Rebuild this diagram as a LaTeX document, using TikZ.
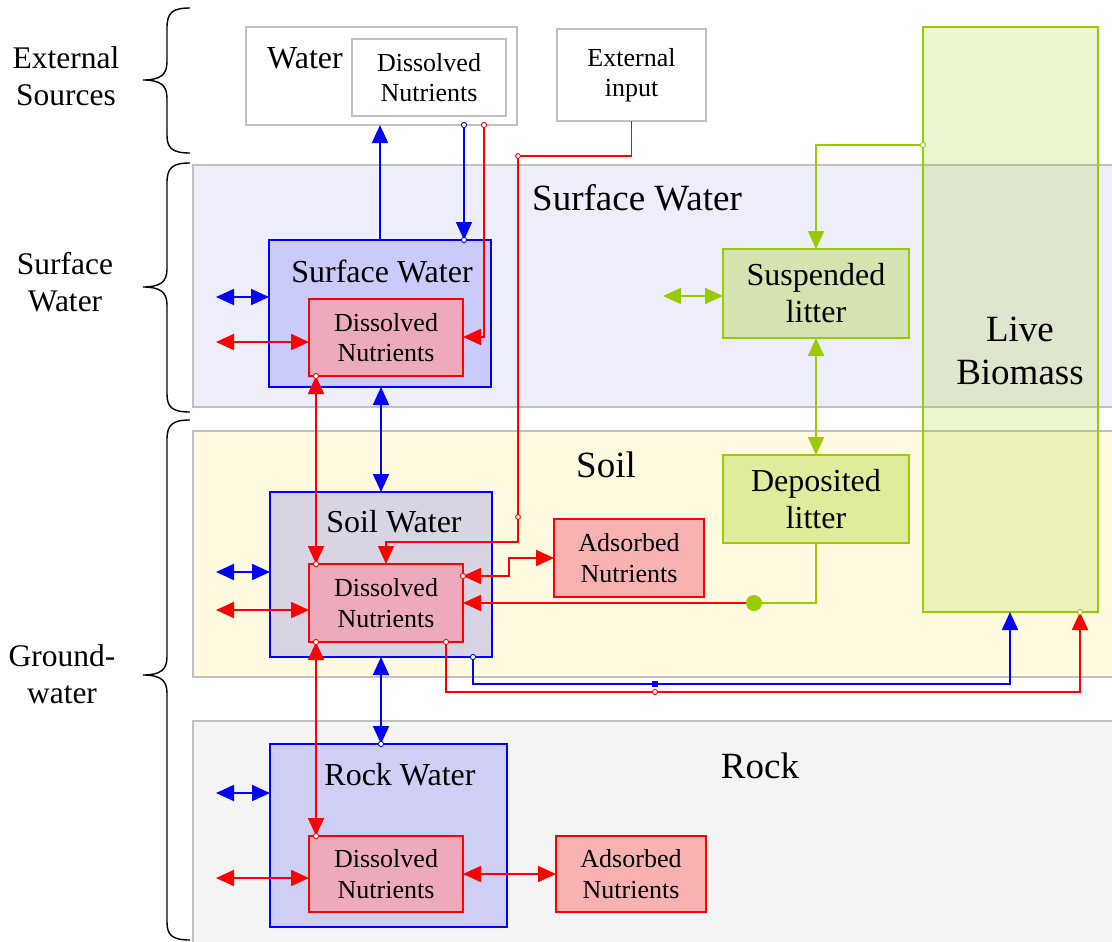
\documentclass[tikz,border=0pt]{standalone}
\usepackage{fontspec}
\setmainfont{Liberation Serif}
\usetikzlibrary{arrows.meta}
\definecolor{cBlue}{RGB}{0,0,255}
\definecolor{cRed}{RGB}{255,0,0}
\definecolor{cGreen}{RGB}{153,204,0}
\definecolor{cGray}{RGB}{192,192,192}
\definecolor{cSWband}{RGB}{238,238,251}
\definecolor{cSoilband}{RGB}{255,250,224}
\definecolor{cRockband}{RGB}{244,244,244}
\definecolor{cDN}{RGB}{236,170,188}
\definecolor{cAds}{RGB}{248,178,178}
\newcommand\fBig{\fontsize{37}{43}\selectfont}
\newcommand\fMed{\fontsize{32}{37}\selectfont}
\newcommand\fSm{\fontsize{26}{30.5}\selectfont}
\newcommand\fLeft{\fontsize{31.5}{37}\selectfont}
\begin{document}
\begin{tikzpicture}[x=1pt,y=-1pt,
  >={Triangle[length=18pt,width=16pt]},
  base/.style={anchor=north west, inner sep=0pt, outer sep=0pt, align=center, text opacity=1},
  grayb/.style={base, draw=cGray, fill=white, line width=1.6pt},
  band/.style={base, draw=cGray, line width=1.6pt},
  bluebox/.style={base, draw=cBlue, line width=1.8pt, fill=cBlue, fill opacity=0.15},
  redbox/.style={base, draw=cRed, line width=1.8pt, fill=cDN, font=\fSm},
  adsbox/.style={base, draw=cRed, line width=1.8pt, fill=cAds, font=\fSm},
  greenbox/.style={base, draw=cGreen, line width=1.8pt, fill=cGreen, fill opacity=0.3, font=\fMed},
  livebox/.style={base, draw=cGreen, line width=1.8pt, fill=cGreen, fill opacity=0.18},
  lbl/.style={inner sep=0pt, align=center},
  bl/.style={draw=cBlue, line width=1.8pt},
  rd/.style={draw=cRed, line width=1.8pt},
  rdthin/.style={draw=cRed, line width=1.3pt},
  gr/.style={draw=cGreen, line width=1.8pt},
  knobB/.style={draw=cBlue, fill=white, line width=0.9pt},
  knobR/.style={draw=cRed, fill=white, line width=0.9pt},
  knobG/.style={draw=cGreen, fill=white, line width=0.9pt},
  brace/.style={draw=black, line width=1.4pt}
]
\clip (0,0) rectangle (1112,942);
\fill[white] (0,0) rectangle (1112,942);

% ---- bands
\node[band, fill=cSWband, minimum width=930pt, minimum height=242pt] (bandsw) at (193,165) {};
\node[band, fill=cSoilband, minimum width=930pt, minimum height=246pt] (bandsoil) at (193,431) {};
\node[band, fill=cRockband, minimum width=930pt, minimum height=230pt] (bandrock) at (193,721) {};

\node[lbl, font=\fBig] (swlabel) at (637,198) {Surface Water};
\node[lbl, font=\fBig] (soillabel) at (606,465) {Soil};
\node[lbl, font=\fBig] (rocklabel) at (760,766) {Rock};

% ---- external sources
\node[grayb, minimum width=271pt, minimum height=98pt] (water) at (246,27) {};
\node[lbl, font=\fMed] (watertxt) at (305,58) {Water};
\node[grayb, font=\fSm, minimum width=154pt, minimum height=77pt] (waterdn) at (352,39) {Dissolved\\Nutrients};
\node[grayb, font=\fSm, minimum width=149pt, minimum height=92pt] (ext) at (557,29) {External\\input};

% ---- live biomass
\node[livebox, minimum width=175pt, minimum height=585pt] (live) at (923,27) {};
\node[lbl, font=\fBig] (livetxt) at (1020,351) {Live\\Biomass};

% ---- surface water compartment
\node[bluebox, minimum width=222pt, minimum height=147pt] (sw) at (269,240) {};
\node[lbl, font=\fMed] (swtxt) at (382,271) {Surface Water};
\node[redbox, minimum width=154pt, minimum height=77pt] (swdn) at (309,299) {Dissolved\\Nutrients};

% ---- soil compartment
\node[bluebox, minimum width=222pt, minimum height=165pt] (soilw) at (270,492) {};
\node[lbl, font=\fMed] (soilwtxt) at (394,522) {Soil Water};
\node[redbox, minimum width=154pt, minimum height=78pt] (soildn) at (309,564) {Dissolved\\Nutrients};
\node[adsbox, minimum width=150pt, minimum height=78pt] (soilads) at (554,519) {Adsorbed\\Nutrients};

% ---- rock compartment
\node[bluebox, minimum width=237pt, minimum height=183pt] (rockw) at (270,744) {};
\node[lbl, font=\fMed] (rockwtxt) at (400,775) {Rock Water};
\node[redbox, minimum width=154pt, minimum height=76pt] (rockdn) at (309,836) {Dissolved\\Nutrients};
\node[adsbox, minimum width=150pt, minimum height=76pt] (rockads) at (556,836) {Adsorbed\\Nutrients};

% ---- litter
\node[greenbox, minimum width=186pt, minimum height=89pt] (susp) at (723,249) {Suspended\\litter};
\node[greenbox, minimum width=186pt, minimum height=88pt] (depo) at (723,455) {Deposited\\litter};

% ---- free ends
\coordinate (swB) at (216,297);
\coordinate (swR) at (216,342);
\coordinate (soilB) at (216,572);
\coordinate (soilR) at (216,610);
\coordinate (rockB) at (216,793);
\coordinate (rockR) at (216,878);
\coordinate (suspG) at (663,296);
\coordinate (joint) at (754,603);

% ---- left braces and labels
\draw[brace] (190,8) .. controls (172,8) and (167,13) .. (167,28) -- (167,62)
  .. controls (167,75) and (160,80) .. (143,80) .. controls (160,80) and (167,85) .. (167,98)
  -- (167,135) .. controls (167,148) and (172,153) .. (190,153);
\draw[brace] (190,163) .. controls (172,163) and (167,168) .. (167,183) -- (167,269)
  .. controls (167,282) and (160,287) .. (143,287) .. controls (160,287) and (167,292) .. (167,305)
  -- (167,394) .. controls (167,407) and (172,412) .. (190,412);
\draw[brace] (190,420) .. controls (172,420) and (167,425) .. (167,440) -- (167,657)
  .. controls (167,670) and (160,675) .. (143,675) .. controls (160,675) and (167,680) .. (167,693)
  -- (167,922) .. controls (167,935) and (172,940) .. (190,940);
\node[lbl, font=\fLeft] (extlbl) at (66,76) {External\\Sources};
\node[lbl, font=\fLeft] (swlbl) at (65,282) {Surface\\Water};
\node[lbl, font=\fLeft] (gwlbl) at (62,674) {Ground-\\water};

% ---- blue connectors
\draw[bl,->] (380,0 |- sw.north) -- (380,0 |- water.south);
\draw[bl,->] (464,0 |- water.south) -- (464,0 |- sw.north);
\draw[bl,<->] (381,0 |- sw.south) -- (381,0 |- soilw.north);
\draw[bl,<->] (381,0 |- soilw.south) -- (381,0 |- rockw.north);
\draw[bl,<->] (swB) -- (sw.west |- swB);
\draw[bl,<->] (soilB) -- (soilw.west |- soilB);
\draw[bl,<->] (rockB) -- (rockw.west |- rockB);
\draw[bl,->] (473,0 |- soilw.south) |- (1010,684) -- (1010,0 |- live.south);

% ---- red connectors
\draw[rd,->] (484,0 |- water.south) |- (swdn.east |- 0,337);
\draw[rdthin,->] (ext.south) |- (518,156) -- (518,542) -| (386,0 |- soildn.north);
\draw[rd,<->] (316,0 |- swdn.south) -- (316,0 |- soildn.north);
\draw[rd,<->] (316,0 |- soildn.south) -- (316,0 |- rockdn.north);
\draw[rd,<->] (swR) -- (swdn.west |- swR);
\draw[rd,<->] (soilR) -- (soildn.west |- soilR);
\draw[rd,<->] (rockR) -- (rockdn.west |- rockR);
\draw[rd,<->] (soilads.west |- 0,558) -| (509,576) -- (soildn.east |- 0,576);
\draw[rd,<->] (rockdn.east |- 0,874) -- (rockads.west |- 0,874);
\draw[rd,->] (joint) -- (soildn.east |- joint);
\draw[rd,->] (446,0 |- soildn.south) |- (1080,692) -- (1080,0 |- live.south);

% ---- green connectors
\draw[gr] (depo.south) |- (joint);
\fill[cGreen] (joint) circle (8pt);
\draw[gr,->] (live.west |- 0,145) -| (susp.north);
\draw[gr,<->] (susp.south) -- (depo.north);
\draw[gr,<->] (suspG) -- (susp.west |- suspG);

% ---- small junction circles
\draw[knobB] (464,0 |- water.south) circle (2.6pt);
\draw[knobB] (464,0 |- sw.north) circle (2.6pt);
\draw[knobB] (381,0 |- rockw.north) circle (2.6pt);
\draw[knobB] (473,0 |- soilw.south) circle (2.6pt);
\fill[cBlue] (652,681) rectangle (658,687);
\draw[knobR] (484,0 |- water.south) circle (2.6pt);
\draw[knobR] (518,156) circle (2.4pt);
\draw[knobR] (518,517) circle (2.4pt);
\draw[knobR] (316,0 |- swdn.south) circle (2.6pt);
\draw[knobR] (316,0 |- soildn.north) circle (2.6pt);
\draw[knobR] (316,0 |- soildn.south) circle (2.6pt);
\draw[knobR] (316,0 |- rockdn.north) circle (2.6pt);
\draw[knobR] (soildn.east |- 0,576) circle (2.6pt);
\draw[knobR] (446,0 |- soildn.south) circle (2.6pt);
\draw[knobR] (655,692) circle (2.6pt);
\draw[knobG] (live.west |- 0,145) circle (2.6pt);
\draw[knobG] (1080,0 |- live.south) circle (2.6pt);
\end{tikzpicture}
\end{document}
